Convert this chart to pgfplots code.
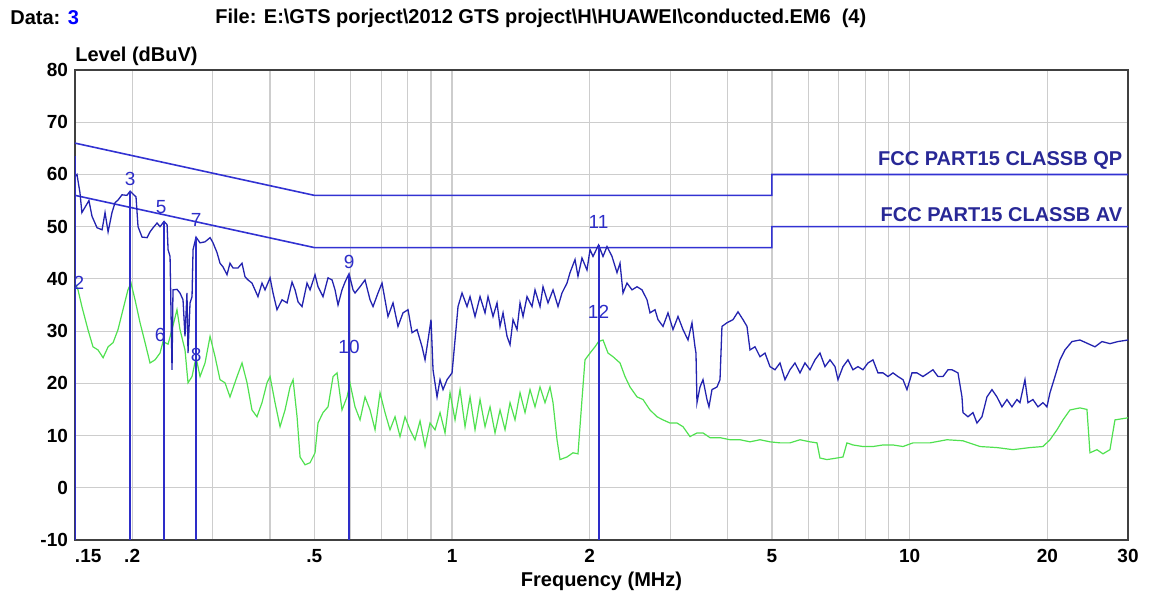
\documentclass[border=0pt]{standalone}
\usepackage{fontspec}
\setmainfont{Liberation Sans}
\usepackage{pgfplots}
\pgfplotsset{compat=1.18}
\definecolor{qpblue}{RGB}{35,35,175}
\definecolor{limblue}{RGB}{50,50,210}
\definecolor{avgreen}{RGB}{80,225,80}
\definecolor{mkblue}{RGB}{45,45,200}
\definecolor{gridgray}{RGB}{205,205,205}
\definecolor{txtblue}{RGB}{40,40,150}
\newcommand\lblfont{\bfseries\fontsize{10}{11}\selectfont}

\begin{document}
\begin{tikzpicture}[x=1pt,y=1pt]
\path[use as bounding box] (-37.5,-28) rectangle (537.5,270);
\begin{axis}[
  at={(0,0)}, anchor=south west,
  scale only axis, width=526.5pt, height=235pt,
  xmode=log, xmin=0.15, xmax=30, ymin=-10, ymax=80,
  xtick={0.15,0.2,0.5,1,2,5,10,20,30},
  xticklabels={\hphantom{.15}.15,.2,.5,1,2,5,10,20,30},
  minor xtick={0.3,0.4,0.6,0.7,0.8,0.9,3,4,6,7,8,9},
  ytick={-10,0,...,80},
  grid=both,
  major grid style={gridgray, line width=0.6pt},
  minor grid style={gridgray, line width=0.6pt},
  major tick length=0pt, minor tick length=0pt,
  axis line style={black!75, line width=1pt},
  /pgf/number format/assume math mode=true,
  ticklabel style={font=\bfseries\fontsize{9.5}{10}\selectfont},
  xticklabel style={yshift=-1pt},
  xlabel={Frequency (MHz)},
  xlabel style={font=\lblfont, yshift=2pt},
  clip=true,
]
% limit lines
\addplot[limblue, line width=0.8pt] coordinates {(0.15,66) (0.5,56) (5,56) (5,60) (30,60)};
\addplot[limblue, line width=0.8pt] coordinates {(0.15,56) (0.5,46) (5,46) (5,50) (30,50)};

% average (green)
\addplot[avgreen, line width=0.6pt] coordinates {
(0.1500,39.2) (0.1523,37.9) (0.1553,34.7) (0.1601,30.3) (0.1642,27.0) (0.1684,26.4) (0.1728,24.9) (0.1772,27.0)
(0.1817,27.8) (0.1863,30.3) (0.1910,34.1) (0.1958,37.9) (0.1989,39.2) (0.2029,36.0) (0.2081,31.6) (0.2134,27.8)
(0.2188,23.9) (0.2244,24.5) (0.2301,25.8) (0.2336,28.0) (0.2396,27.5) (0.2444,30.3) (0.2506,34.1) (0.2544,30.3)
(0.2609,26.4) (0.2649,20.1) (0.2703,21.3) (0.2758,25.0) (0.2814,21.3) (0.2886,23.9) (0.2960,29.0) (0.3035,25.1)
(0.3112,20.7) (0.3191,20.1) (0.3272,17.4) (0.3390,21.3) (0.3476,23.9) (0.3565,20.1) (0.3655,14.9) (0.3748,13.6)
(0.3844,16.3) (0.3942,20.1) (0.4003,21.3) (0.4104,16.3) (0.4209,11.7) (0.4316,14.9) (0.4426,19.3) (0.4494,20.7)
(0.4585,13.6) (0.4655,5.9) (0.4773,4.4) (0.4895,4.8) (0.5019,6.7) (0.5095,12.4) (0.5225,14.4) (0.5358,15.5)
(0.5496,21.3) (0.5607,22.0) (0.5749,14.9) (0.5896,17.4) (0.5986,20.0) (0.6138,15.5) (0.6295,13.0) (0.6455,17.4)
(0.6620,14.9) (0.6788,11.1) (0.6961,18.2) (0.7138,14.4) (0.7320,11.1) (0.7507,13.6) (0.7698,9.8) (0.7894,13.6)
(0.8095,11.1) (0.8301,9.2) (0.8513,12.8) (0.8730,7.9) (0.8952,12.4) (0.9180,11.1) (0.9414,14.4) (0.9654,10.5)
(0.9900,18.2) (1.0152,13.0) (1.0411,18.8) (1.0676,11.7) (1.0948,17.4) (1.1227,11.1) (1.1513,16.9) (1.1806,11.7)
(1.2107,15.5) (1.2415,10.5) (1.2732,14.9) (1.3056,11.1) (1.3389,16.3) (1.3729,13.0) (1.4079,18.2) (1.4438,14.4)
(1.4806,18.8) (1.5183,15.5) (1.5570,19.3) (1.5966,16.3) (1.6373,19.3) (1.6622,16.3) (1.6960,9.2) (1.7218,5.4)
(1.7834,5.9) (1.8381,6.7) (1.8849,6.5) (1.9232,16.9) (1.9525,24.5) (2.0023,25.8) (2.0533,27.0) (2.0900,28.0)
(2.1376,28.3) (2.1920,25.8) (2.2479,25.1) (2.3285,23.9) (2.3878,21.3) (2.4487,19.3) (2.5364,17.4) (2.6141,16.9)
(2.7078,14.9) (2.8048,13.6) (2.8908,13.0) (2.9945,12.4) (3.1017,12.4) (3.1968,11.7) (3.3114,9.8) (3.4300,10.5)
(3.5352,10.5) (3.6620,9.6) (3.8510,9.6) (4.0496,9.2) (4.2586,9.2) (4.4783,8.8) (4.7093,9.2) (4.9523,8.8)
(5.2078,8.6) (5.4765,8.6) (5.7591,9.2) (6.0563,8.8) (6.2731,8.6) (6.3688,5.7) (6.5967,5.4) (6.9371,5.7)
(7.1500,5.9) (7.2951,8.6) (7.5189,8.2) (7.9068,7.9) (8.3148,7.9) (8.7439,8.2) (9.1950,8.2) (9.6694,7.9)
(10.168,8.6) (10.693,8.6) (11.077,8.6) (12.066,9.2) (13.077,9.0) (14.245,7.9) (15.516,7.7) (16.817,7.3)
(18.319,7.7) (19.558,7.9) (20.259,9.2) (20.984,11.1) (21.628,13.0) (22.403,14.9) (23.559,15.3) (24.402,15.0)
(24.774,6.7) (25.662,7.3) (26.449,6.5) (27.397,7.3) (28.094,13.0) (30.000,13.4)
};

% quasi-peak (blue)
\addplot[qpblue, line width=0.65pt] coordinates {
(0.1500,59.6) (0.1515,60.0) (0.1538,56.5) (0.1553,52.7) (0.1609,55.0) (0.1634,52.0) (0.1676,49.8) (0.1719,49.4)
(0.1745,52.7) (0.1772,49.0) (0.1807,52.7) (0.1835,54.6) (0.1863,55.1) (0.1900,56.1) (0.1948,56.0) (0.1980,56.8)
(0.2039,55.7) (0.2060,50.0) (0.2102,48.0) (0.2156,47.9) (0.2188,49.0) (0.2222,49.8) (0.2267,50.7) (0.2301,50.0)
(0.2348,51.0) (0.2384,50.4) (0.2396,45.6) (0.2420,44.3) (0.2444,22.6) (0.2456,37.9) (0.2506,38.0) (0.2544,37.3)
(0.2583,36.0) (0.2609,29.0) (0.2635,37.3) (0.2649,25.8) (0.2676,35.4) (0.2703,36.6) (0.2717,45.6) (0.2758,48.0)
(0.2814,46.9) (0.2886,47.1) (0.2960,47.9) (0.3005,46.9) (0.3066,45.0) (0.3112,43.0) (0.3159,42.3) (0.3223,40.8)
(0.3272,43.0) (0.3322,42.1) (0.3407,42.1) (0.3476,43.0) (0.3529,40.4) (0.3583,39.8) (0.3655,39.2) (0.3711,37.9)
(0.3767,36.6) (0.3844,39.2) (0.3903,37.9) (0.4003,40.2) (0.4063,37.3) (0.4145,34.1) (0.4251,36.0) (0.4360,35.4)
(0.4471,39.4) (0.4539,37.9) (0.4608,35.6) (0.4701,34.7) (0.4821,39.2) (0.4895,37.9) (0.5019,40.8) (0.5095,38.5)
(0.5225,36.6) (0.5358,40.2) (0.5468,39.8) (0.5551,37.9) (0.5635,35.0) (0.5749,37.9) (0.5837,39.4) (0.5956,41.0)
(0.6077,37.9) (0.6138,37.3) (0.6295,38.5) (0.6455,39.8) (0.6620,36.0) (0.6720,34.7) (0.6891,37.3) (0.7031,39.2)
(0.7138,36.0) (0.7246,32.8) (0.7432,35.4) (0.7621,30.9) (0.7815,33.5) (0.8014,34.1) (0.8177,29.7) (0.8385,30.3)
(0.8599,27.0) (0.8730,24.5) (0.8863,28.3) (0.8997,32.2) (0.9088,22.6) (0.9273,17.4) (0.9414,20.7) (0.9557,18.8)
(0.9752,20.7) (1.0000,22.0) (1.0152,28.3) (1.0306,34.7) (1.0516,37.3) (1.0784,34.7) (1.0948,36.6) (1.1227,32.8)
(1.1513,36.6) (1.1806,33.5) (1.1985,36.6) (1.2291,32.8) (1.2540,35.4) (1.2732,30.9) (1.2925,33.5) (1.3188,29.0)
(1.3389,27.4) (1.3592,32.2) (1.3868,30.3) (1.4079,35.4) (1.4294,32.8) (1.4584,36.6) (1.4955,34.7) (1.5183,37.9)
(1.5570,34.7) (1.5806,38.5) (1.6209,35.4) (1.6622,37.9) (1.7045,34.7) (1.7391,37.3) (1.7834,39.2) (1.8106,41.2)
(1.8567,43.7) (1.8849,40.5) (1.9232,44.0) (1.9722,41.7) (2.0023,45.6) (2.0328,44.3) (2.0900,46.5) (2.1376,44.3)
(2.1810,46.2) (2.2365,44.3) (2.2935,41.2) (2.3285,43.0) (2.3639,37.3) (2.4119,39.2) (2.4733,37.9) (2.5364,38.5)
(2.6009,37.9) (2.6672,36.0) (2.7078,33.5) (2.7768,34.1) (2.8190,32.2) (2.8908,30.9) (2.9644,33.5) (3.0400,30.3)
(3.1174,32.8) (3.1968,30.3) (3.2782,28.3) (3.3448,31.6) (3.3957,27.0) (3.4127,25.8) (3.4300,16.3) (3.4823,19.3)
(3.5352,20.7) (3.6070,16.9) (3.6434,15.5) (3.6989,18.8) (3.7931,19.3) (3.8510,20.7) (3.8897,30.9) (3.9888,31.6)
(4.1112,32.2) (4.2158,33.7) (4.3232,32.2) (4.4110,30.9) (4.4783,26.4) (4.5922,27.0) (4.7093,25.1) (4.8292,25.8)
(4.9523,23.2) (5.0783,22.6) (5.2078,23.9) (5.3403,20.7) (5.4765,22.6) (5.6159,23.9) (5.7591,22.0) (5.9057,23.9)
(6.0563,22.6) (6.2104,24.5) (6.3688,25.8) (6.5308,23.2) (6.6973,24.5) (6.8678,23.2) (6.9722,20.7) (7.1500,23.2)
(7.3320,24.5) (7.5189,22.6) (7.7102,23.2) (7.9068,22.6) (8.1081,23.9) (8.3148,24.5) (8.5265,22.0) (8.7439,22.0)
(8.9664,21.3) (9.1950,22.0) (9.4291,21.3) (9.6694,20.7) (9.8658,18.8) (10.117,22.0) (10.375,22.0) (10.693,21.3)
(11.244,22.6) (11.531,21.3) (11.826,21.3) (12.127,22.6) (12.373,22.6) (12.752,22.0) (13.011,17.4) (13.077,14.4)
(13.410,13.6) (13.752,14.4) (14.031,12.4) (14.388,13.6) (14.755,17.4) (15.131,18.8) (15.516,17.4) (15.912,15.5)
(16.317,16.9) (16.732,15.5) (17.159,16.9) (17.420,16.3) (17.864,20.7) (18.136,16.3) (18.597,16.9) (19.071,15.5)
(19.558,16.3) (19.955,15.5) (20.259,18.2) (20.774,21.3) (21.304,24.5) (21.846,26.4) (22.629,28.0) (23.559,28.3)
(24.525,27.6) (25.405,27.0) (26.315,28.0) (27.397,27.6) (28.521,28.0) (30.000,28.3)
};

% marker lines with their numbers
\tikzset{mk/.style={mkblue, line width=1pt}, mklab/.style={pos=1, text=mkblue, font=\fontsize{9.5}{10}\selectfont, inner sep=0pt}}
\addplot[mk] coordinates {(0.150,-10) (0.150,63.5)};
\addplot[mk] coordinates {(0.150,-10) (0.150,39.2)} node[mklab, xshift=2pt] {2};
\addplot[mk] coordinates {(0.198,-10) (0.198,56.8)} node[mklab, yshift=6pt] {3};
\addplot[mk] coordinates {(0.198,-10) (0.198,39.2)};
\addplot[mk] coordinates {(0.2348,-10) (0.2348,51.0)} node[mklab, xshift=-1.5pt, yshift=7.3pt] {5};
\addplot[mk] coordinates {(0.2348,-10) (0.2348,28.0)} node[mklab, xshift=-2pt, yshift=3.4pt] {6};
\addplot[mk] coordinates {(0.2758,-10) (0.2758,48.0)} node[mklab, yshift=8.6pt] {7};
\addplot[mk] coordinates {(0.2758,-10) (0.2758,25.0)} node[mklab, yshift=1.2pt] {8};
\addplot[mk] coordinates {(0.5956,-10) (0.5956,41.0)} node[mklab, yshift=6pt] {9};
\addplot[mk] coordinates {(0.5956,-10) (0.5956,20.0)} node[mklab, yshift=18pt] {10};
\addplot[mk] coordinates {(2.0900,-10) (2.0900,46.5)} node[mklab, yshift=11.6pt] {11};
\addplot[mk] coordinates {(2.0900,-10) (2.0900,28.0)} node[mklab, yshift=15pt] {12};

\node[anchor=south east, text=txtblue, font=\lblfont, inner sep=0pt]
  at (axis cs:29.2,60.9) {FCC PART15 CLASSB QP};
\node[anchor=south east, text=txtblue, font=\lblfont, inner sep=0pt]
  at (axis cs:29.2,50.9) {FCC PART15 CLASSB AV};
\end{axis}
\node[anchor=west, font=\lblfont, inner sep=0pt] at (-32.5,261) {Data: \textcolor{blue}{3}};
\node[anchor=west, font=\lblfont, inner sep=0pt] at (70,261)
  {File: E:\textbackslash GTS porject\textbackslash 2012 GTS project\textbackslash H\textbackslash HUAWEI\textbackslash conducted.EM6\ \ (4)};
\node[anchor=west, font=\lblfont, inner sep=0pt] at (0,242) {Level (dBuV)};
\end{tikzpicture}
\end{document}
